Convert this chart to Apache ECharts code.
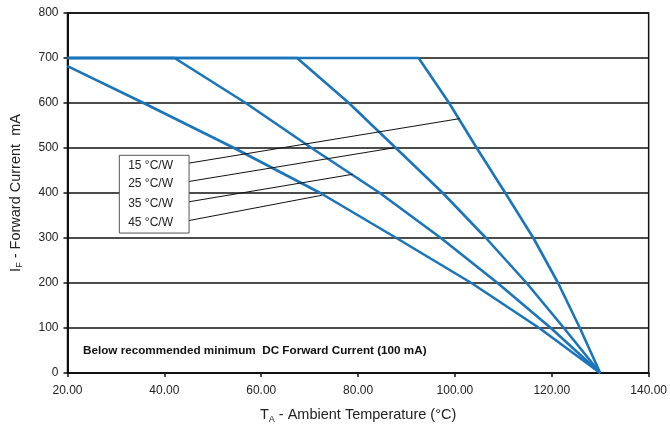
<!DOCTYPE html>
<html>
<head>
<meta charset="utf-8">
<script src="https://cdn.jsdelivr.net/npm/echarts@6/dist/echarts.min.js"></script>
<style>
html,body{margin:0;padding:0;background:#fff;}
#chart{width:670px;height:430px;}
</style>
</head>
<body>
<div id="chart"></div>
<script>
// Temperature (°C) / forward current (mA) pairs
const curve15 = [[20,700],[92.5,700],[98.8,600],[104.5,500],[110.4,400],[116.2,300],[121.3,200],[125.8,100],[130,0]];
const curve25 = [[20,700],[67.4,700],[78.1,600],[87.8,500],[97.5,400],[106.4,300],[114.8,200],[122.5,100],[130,0]];
const curve35 = [[20,700],[42.1,700],[56.8,600],[70.4,500],[84.5,400],[97.1,300],[108.8,200],[119.8,100],[130,0]];
const curve45 = [[20,682],[35.7,600],[54.4,500],[72.2,400],[87.9,300],[103.4,200],[117.4,100],[130,0]];
const seriesNames = ['15 °C/W','25 °C/W','35 °C/W','45 °C/W'];
// pointer lines: start (near label box) and end (on curve), data coordinates
const pointerStart = [[42.4,461.6],[42.4,420.9],[42.4,375.6],[42.4,333.3]];
const pointerEnd = [[101.0,565.3],[87.4,500.4],[78.9,441.6],[72.5,394.9]];
// label box corners in data coordinates
const boxCorner1 = [30.7,483.8];
const boxCorner2 = [45.1,311.0];
const noteText = 'Below recommended minimum  DC Forward Current (100 mA)';
const notePos = [23.2, 50];

const blue = '#1b75bb';
const chart = echarts.init(document.getElementById('chart'));
const curves = [curve15, curve25, curve35, curve45];
const nameRich = {
  a: {fontFamily: 'Liberation Sans', fontSize: 14.5, color: '#222'},
  s: {fontFamily: 'Liberation Sans', fontSize: 9, color: '#222', padding: [9,0,0,0]}
};

const option = {
  animation: false,
  grid: {left: 66, right: 20, top: 13, bottom: 57, show: true, borderColor: '#111', borderWidth: 1.5, backgroundColor: 'transparent'},
  xAxis: {
    type: 'value', min: 20, max: 140, interval: 20,
    name: '{a|T}{s|A}{a| - Ambient Temperature (°C)}',
    nameLocation: 'middle', nameGap: 33,
    nameTextStyle: {rich: nameRich},
    axisLine: {show: true, onZero: false, lineStyle: {color: '#111', width: 2}},
    axisTick: {show: true, length: 4, lineStyle: {color: '#111', width: 1.5}},
    axisLabel: {margin: 12, fontFamily: 'Liberation Sans', fontSize: 12, color: '#222', formatter: v => v.toFixed(2)},
    splitLine: {show: false}
  },
  yAxis: {
    type: 'value', min: 0, max: 800, interval: 100,
    name: '{a|I}{s|F}{a| - Forward Current  mA}',
    nameLocation: 'middle', nameGap: 43, nameRotate: 90,
    nameTextStyle: {rich: nameRich},
    axisLine: {show: true, lineStyle: {color: '#111', width: 2}},
    axisTick: {show: true, length: 4, lineStyle: {color: '#111', width: 1.5}},
    axisLabel: {margin: 9, fontFamily: 'Liberation Sans', fontSize: 12, color: '#222'},
    splitLine: {show: true, lineStyle: {color: '#111', width: 1.5}}
  },
  series: curves.map((c, i) => ({
    type: 'line', name: seriesNames[i], data: c, showSymbol: false, symbol: 'none',
    lineStyle: {color: blue, width: 2.6}, z: 3,
    markLine: i === 0 ? {
      silent: true, symbol: 'none', animation: false,
      lineStyle: {color: '#111', width: 1, type: 'solid'},
      label: {show: false},
      data: pointerStart.map((p, k) => [{coord: p}, {coord: pointerEnd[k]}])
    } : undefined
  }))
};
chart.setOption(option);

const p1 = chart.convertToPixel({gridIndex: 0}, boxCorner1);
const p2 = chart.convertToPixel({gridIndex: 0}, boxCorner2);
const ps = pointerStart.map(p => chart.convertToPixel({gridIndex: 0}, p));
const np = chart.convertToPixel({gridIndex: 0}, notePos);
const graphics = [{
  type: 'rect', shape: {x: p1[0], y: p1[1], width: p2[0]-p1[0], height: p2[1]-p1[1]},
  style: {fill: '#fff', stroke: '#555', lineWidth: 1}, z: 10
}];
seriesNames.forEach((n, k) => {
  graphics.push({
    type: 'text', x: ps[k][0] - 3, y: ps[k][1], z: 11,
    style: {text: n, fontFamily: 'Liberation Sans', fontSize: 12, fill: '#222', textAlign: 'right', textVerticalAlign: 'middle'}
  });
});
graphics.push({
  type: 'text', x: np[0], y: np[1], z: 11,
  style: {text: noteText, fontFamily: 'Liberation Sans', fontSize: 11.7, fontWeight: 'bold', fill: '#111', textAlign: 'left', textVerticalAlign: 'middle'}
});
chart.setOption({graphic: graphics});
</script>
</body>
</html>
